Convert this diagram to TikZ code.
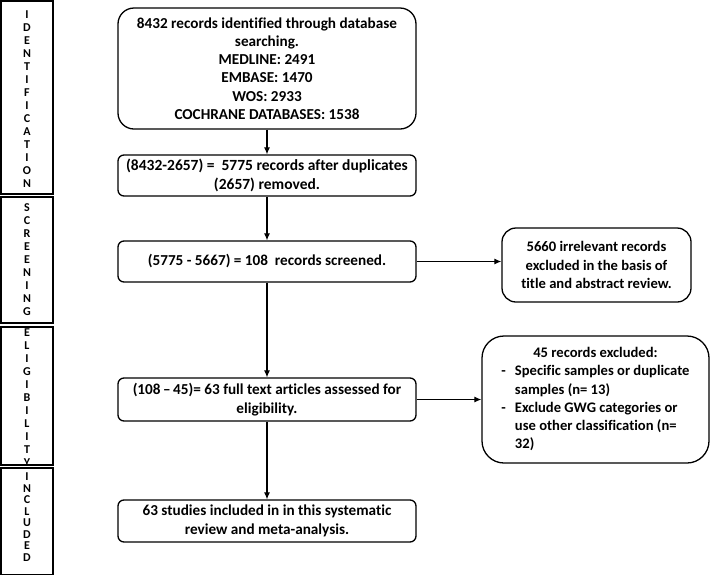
\documentclass[tikz,border=0pt]{standalone}
\usepackage{fontspec}
\setmainfont{Carlito}[Ligatures=NoCommon]
\usetikzlibrary{arrows.meta}
\begin{document}
\begin{tikzpicture}[x=1pt,y=-1pt,
  box/.style={draw, line width=1.3pt, rounded corners=6pt, inner sep=0pt, align=center,
    font=\bfseries\fontsize{15.2}{18.3}\selectfont},
  sidebox/.style={box, font=\bfseries\fontsize{14.6}{18.3}\selectfont},
  phase/.style={draw, line width=1.3pt, inner sep=0pt, minimum width=52pt},
  vlabel/.style={align=center, inner sep=0pt, font=\bfseries\fontsize{12}{13}\selectfont},
  arr/.style={-{Latex[length=7pt,width=6pt]}, line width=1.1pt}]
\useasboundingbox (0,0) rectangle (710,574);

% phase boxes
\node[phase, minimum height=193pt] (p1) at (27,97.5) {};
\node[phase, minimum height=126pt] (p2) at (27,260) {};
\node[phase, minimum height=138pt] (p3) at (27,396) {};
\node[phase, minimum height=107pt] (p4) at (27,521.5) {};
\node[vlabel] (l1) at (27,99) {I\\D\\E\\N\\T\\I\\F\\I\\C\\A\\T\\I\\O\\N};
\node[vlabel] (l2) at (27,260) {S\\C\\R\\E\\E\\N\\I\\N\\G};
\node[vlabel] (l3) at (27,397.5) {E\\L\\I\\G\\I\\B\\I\\L\\I\\T\\Y};
\node[vlabel, font=\bfseries\fontsize{12}{11.5}\selectfont] (l4) at (27,517) {I\\N\\C\\L\\U\\D\\E\\D};

% main boxes
\node[box, minimum width=298pt, minimum height=121pt, rounded corners=16pt] (b1) at (267,68.5)
  {8432 records identified through database\\ searching.\\ MEDLINE: 2491\\ EMBASE: 1470\\ WOS: 2933\\ COCHRANE DATABASES: 1538};
\node[box, minimum width=298pt, minimum height=41pt, font=\bfseries\fontsize{15.5}{18.3}\selectfont] (b2) at (267,175.5)
  {(8432-2657) =\hspace{7pt}5775 records after duplicates\\ (2657) removed.};
\node[box, minimum width=298pt, minimum height=41pt] (b3) at (267,261.5)
  {(5775 - 5667) = 108 \ records screened.};
\node[box, minimum width=298pt, minimum height=43pt] (b4) at (267,399.5)
  {(108\,--\,45)= 63 full text articles assessed for\\ eligibility.};
\node[box, minimum width=298pt, minimum height=42pt] (b5) at (267,521)
  {63 studies included in in this systematic\\ review and meta-analysis.};

% side boxes
\node[sidebox, minimum width=189pt, minimum height=74pt, rounded corners=14pt] (r1) at (596.5,265)
  {5660 irrelevant records\\ excluded in the basis of\\ title and abstract review.};
\node[sidebox, minimum width=227pt, minimum height=127pt, rounded corners=22pt] (r2) at (595.5,399.5)
  {\begin{tabular}{@{}l@{\hspace{9pt}}l@{}}
   \multicolumn{2}{c}{45 records excluded:}\\
   - & Specific samples or duplicate\\
     & samples (n= 13)\\
   - & Exclude GWG categories or\\
     & use other classification (n=\\
     & 32)
   \end{tabular}};

% connectors
\draw[arr] (b1) -- (b2);
\draw[arr] (b2) -- (b3);
\draw[arr] (b3) -- (b4);
\draw[arr] (b4) -- (b5);
\draw[arr] (b3.east) -- (b3.east -| r1.west);
\draw[arr] (b4.east) -- (b4.east -| r2.west);
\end{tikzpicture}
\end{document}
